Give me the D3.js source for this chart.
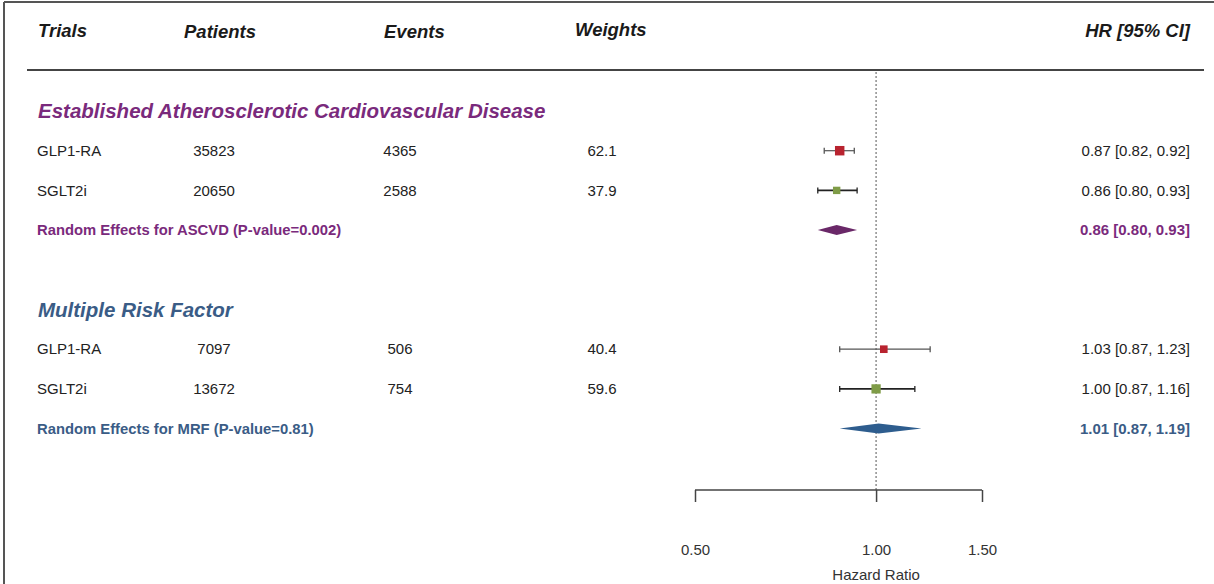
<!DOCTYPE html>
<html>
<head>
<meta charset="utf-8">
<script src="https://cdn.jsdelivr.net/npm/d3@7"></script>
<style>
  html, body { margin: 0; padding: 0; background: #fff; }
  svg { display: block; font-family: "Liberation Sans", Arial, sans-serif; }
</style>
</head>
<body>
<svg id="chart" width="1214" height="584"></svg>
<script>
// Column headers
const headers = ["Trials", "Patients", "Events", "Weights"];
const hrHeader = "HR [95% CI]";

// Subgroups
const groupNames = ["Established Atherosclerotic Cardiovascular Disease", "Multiple Risk Factor"];
const groupColors = ["#7a2a7c", "#3a5c86"];
const diamondColors = ["#6a2868", "#2e5d8e"];

// Individual trial rows
const trialNames = ["GLP1-RA", "SGLT2i", "GLP1-RA", "SGLT2i"];
const trialGroup = [0, 0, 1, 1];
const patients = [35823, 20650, 7097, 13672];
const events = [4365, 2588, 506, 754];
const weights = [62.1, 37.9, 40.4, 59.6];
const hr = [0.87, 0.86, 1.03, 1.00];
const hrLower = [0.82, 0.80, 0.87, 0.87];
const hrUpper = [0.92, 0.93, 1.23, 1.16];

// Pooled (random effects) rows
const pooledLabels = ["Random Effects for ASCVD (P-value=0.002)", "Random Effects for MRF (P-value=0.81)"];
const pooledHr = [0.86, 1.01];
const pooledLower = [0.80, 0.87];
const pooledUpper = [0.93, 1.19];

// Axis
const axisTicks = [0.50, 1.00, 1.50];
const axisTitle = "Hazard Ratio";

const fmt2 = d3.format(".2f");
const ciText = (m, l, u) => `${fmt2(m)} [${fmt2(l)}, ${fmt2(u)}]`;

const svg = d3.select("#chart");

// Layout: row slots (title, trial, trial, pooled, blank) per group
const rowY = d3.scaleLinear().domain([0, 8]).range([111, 428.6]);
const x = d3.scaleLog().domain([0.5, 1.5]).range([695, 982]);
const markSize = d3.scaleSqrt().domain([0, 100]).range([0, 12]);

const colX = { trial: 37, patients: 214, events: 400, weights: 602, hr: 1190 };
const markerColors = { "GLP1-RA": "#b8232f", "SGLT2i": "#7f9c47" };

// Frame lines
svg.append("line").attr("x1", 4).attr("x2", 1214).attr("y1", 2).attr("y2", 2)
  .attr("stroke", "#555").attr("stroke-width", 2);
svg.append("line").attr("x1", 4).attr("x2", 4).attr("y1", 2).attr("y2", 584)
  .attr("stroke", "#555").attr("stroke-width", 2);

// Header
const headerX = [38, 184, 384, 575];
const headerDy = [0, 1, 1, -1];
svg.selectAll("text.hdr").data(headers).join("text")
  .attr("class", "hdr")
  .attr("x", (d, i) => headerX[i]).attr("y", (d, i) => 37 + headerDy[i])
  .attr("font-size", 18.5).attr("font-weight", "bold").attr("font-style", "italic")
  .attr("fill", "#1a1a1a").text(d => d);
svg.append("text").attr("x", colX.hr).attr("y", 37).attr("text-anchor", "end")
  .attr("font-size", 18.5).attr("font-weight", "bold").attr("font-style", "italic")
  .attr("fill", "#1a1a1a").text(hrHeader);

svg.append("line").attr("x1", 27).attr("x2", 1204).attr("y1", 70).attr("y2", 70)
  .attr("stroke", "#444").attr("stroke-width", 2);

// Reference line at HR = 1
svg.append("line").attr("x1", x(1)).attr("x2", x(1)).attr("y1", 72).attr("y2", 490)
  .attr("stroke", "#555").attr("stroke-width", 1).attr("stroke-dasharray", "2,2");

// Group titles
svg.selectAll("text.grp").data(groupNames).join("text")
  .attr("class", "grp")
  .attr("x", 38).attr("y", (d, i) => rowY(i * 5) + 7)
  .attr("font-size", 20.5).attr("font-weight", "bold").attr("font-style", "italic")
  .attr("fill", (d, i) => groupColors[i]).text(d => d);

// Trial rows
const trialRow = trialNames.map((d, i) => trialGroup[i] * 5 + 1 + (i % 2));
const rows = svg.selectAll("g.row").data(trialNames).join("g")
  .attr("class", "row")
  .attr("transform", (d, i) => `translate(0,${rowY(trialRow[i])})`);

const cell = (sel, xpos, anchor, fn) => sel.append("text")
  .attr("x", xpos).attr("y", 5.2).attr("text-anchor", anchor)
  .attr("font-size", 15).attr("fill", "#222").text(fn);

cell(rows, colX.trial, "start", d => d);
cell(rows, colX.patients, "middle", (d, i) => patients[i]);
cell(rows, colX.events, "middle", (d, i) => events[i]);
cell(rows, colX.weights, "middle", (d, i) => weights[i].toFixed(1));
cell(rows, colX.hr, "end", (d, i) => ciText(hr[i], hrLower[i], hrUpper[i]));

// Confidence intervals with end caps
rows.append("line")
  .attr("x1", (d, i) => x(hrLower[i])).attr("x2", (d, i) => x(hrUpper[i]))
  .attr("y1", 0).attr("y2", 0)
  .attr("stroke", d => d === "SGLT2i" ? "#222" : "#555")
  .attr("stroke-width", d => d === "SGLT2i" ? 1.8 : 1.2);
[hrLower, hrUpper].forEach(arr => {
  rows.append("line")
    .attr("x1", (d, i) => x(arr[i])).attr("x2", (d, i) => x(arr[i]))
    .attr("y1", -3).attr("y2", 3)
    .attr("stroke", d => d === "SGLT2i" ? "#222" : "#555")
    .attr("stroke-width", 1.3);
});
// Point estimates, sized by weight
rows.append("rect")
  .attr("x", (d, i) => x(hr[i]) - markSize(weights[i]) / 2)
  .attr("y", (d, i) => -markSize(weights[i]) / 2)
  .attr("width", (d, i) => markSize(weights[i]))
  .attr("height", (d, i) => markSize(weights[i]))
  .attr("fill", d => markerColors[d]);

// Pooled rows
const pooled = svg.selectAll("g.pooled").data(pooledLabels).join("g")
  .attr("class", "pooled")
  .attr("transform", (d, i) => `translate(0,${rowY(i * 5 + 3)})`);
pooled.append("text").attr("x", colX.trial).attr("y", 5)
  .attr("font-size", 14.8).attr("font-weight", "bold")
  .attr("fill", (d, i) => groupColors[i]).text(d => d);
pooled.append("text").attr("x", colX.hr).attr("y", 5.2).attr("text-anchor", "end")
  .attr("font-size", 15).attr("font-weight", "bold")
  .attr("fill", (d, i) => groupColors[i])
  .text((d, i) => ciText(pooledHr[i], pooledLower[i], pooledUpper[i]));
pooled.append("path")
  .attr("d", (d, i) => {
    const l = x(pooledLower[i]), m = x(pooledHr[i]), u = x(pooledUpper[i]);
    return `M${l},0L${m},-5L${u},0L${m},5Z`;
  })
  .attr("fill", (d, i) => diamondColors[i]);

// Hazard ratio axis
const axis = d3.axisBottom(x).tickValues(axisTicks).tickFormat(fmt2)
  .tickSizeOuter(0).tickSizeInner(12).tickPadding(42);
const gAxis = svg.append("g").attr("transform", "translate(0,490)").call(axis);
gAxis.select(".domain").attr("stroke", "#444").attr("stroke-width", 1.5)
  .attr("d", `M${x(0.5)},0H${x(1.5)}`);
gAxis.selectAll(".tick line").attr("stroke", "#444").attr("stroke-width", 1.5);
gAxis.selectAll(".tick text").attr("font-size", 15).attr("fill", "#333")
  .attr("font-family", "Liberation Sans, Arial, sans-serif");

svg.append("text").attr("x", x(1)).attr("y", 580).attr("text-anchor", "middle")
  .attr("font-size", 15).attr("fill", "#333").text(axisTitle);
</script>
</body>
</html>
